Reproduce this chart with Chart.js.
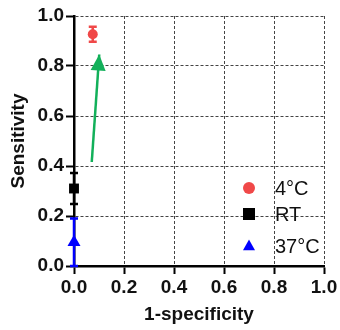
<!DOCTYPE html>
<html>
<head>
<meta charset="utf-8">
<script src="https://cdn.jsdelivr.net/npm/chart.js@4/dist/chart.umd.min.js"></script>
<style>
  html, body { margin: 0; padding: 0; background: #fff; }
  #wrap { width: 340px; height: 330px; }
</style>
</head>
<body>
<div id="wrap"><canvas id="roc" width="340" height="330"></canvas></div>
<script>
// ROC operating points by storage temperature (mean ± error)
const groups = ['4°C', 'RT', '37°C'];
const fpr = [0.075, 0, 0];            // 1-specificity
const sens = [0.927, 0.31, 0.095];     // sensitivity
const sensErr = [0.03, 0.062, 0.095];  // vertical error
const groupColors = ['#f04848', '#000000', '#0000ff'];
const groupShapes = ['circle', 'rect', 'triangle'];

// Trend arrow (start -> tip)
const arrowX = [0.071, 0.101];
const arrowY = [0.416, 0.846];

const axisTicks = [0, 0.2, 0.4, 0.6, 0.8, 1.0];

const FONT = "'Liberation Sans', Arial, sans-serif";

function drawShape(ctx, shape, x, y, r) {
  ctx.beginPath();
  if (shape === 'circle') {
    ctx.arc(x, y, r, 0, Math.PI * 2);
  } else if (shape === 'rect') {
    ctx.rect(x - r, y - r, 2 * r, 2 * r);
  } else {
    const h = r * 1.8;
    ctx.moveTo(x, y - h * 0.6);
    ctx.lineTo(x + r, y + h * 0.4);
    ctx.lineTo(x - r, y + h * 0.4);
    ctx.closePath();
  }
  ctx.fill();
}

const errorBars = {
  id: 'errorBars',
  beforeDatasetsDraw(chart) {
    const { ctx, scales } = chart;
    chart.data.datasets.forEach((ds) => {
      if (ds.errY === undefined) return;
      const p = ds.data[0];
      const x = scales.x.getPixelForValue(p.x);
      const lo = Math.max(0, p.y - ds.errY);
      const hi = p.y + ds.errY;
      const y1 = scales.y.getPixelForValue(hi);
      const y2 = scales.y.getPixelForValue(lo);
      ctx.save();
      ctx.strokeStyle = ds.backgroundColor;
      ctx.lineWidth = 2.5;
      ctx.beginPath();
      ctx.moveTo(x, y1); ctx.lineTo(x, y2);
      ctx.moveTo(x - 4, y1); ctx.lineTo(x + 4, y1);
      ctx.moveTo(x - 4, y2); ctx.lineTo(x + 4, y2);
      ctx.stroke();
      ctx.restore();
    });
  }
};

const arrowHead = {
  id: 'arrowHead',
  afterDatasetsDraw(chart) {
    const { ctx } = chart;
    chart.data.datasets.forEach((ds, i) => {
      if (!ds.isArrow) return;
      const pts = chart.getDatasetMeta(i).data;
      const a = pts[pts.length - 2], b = pts[pts.length - 1];
      const ang = Math.atan2(b.y - a.y, b.x - a.x);
      const len = 16, half = 7.5;
      const bx = b.x - len * Math.cos(ang), by = b.y - len * Math.sin(ang);
      ctx.save();
      ctx.fillStyle = ds.borderColor;
      ctx.beginPath();
      ctx.moveTo(b.x, b.y);
      ctx.lineTo(bx + half * Math.sin(ang), by - half * Math.cos(ang));
      ctx.lineTo(bx - half * Math.sin(ang), by + half * Math.cos(ang));
      ctx.closePath();
      ctx.fill();
      ctx.restore();
    });
  }
};

const keyBox = {
  id: 'keyBox',
  afterDraw(chart, args, opts) {
    const { ctx } = chart;
    ctx.save();
    ctx.font = '20px ' + FONT;
    ctx.textBaseline = 'middle';
    ctx.textAlign = 'left';
    groups.forEach((g, i) => {
      const y = opts.rows[i];
      ctx.fillStyle = groupColors[i];
      drawShape(ctx, groupShapes[i], opts.markerX, y, 6);
      ctx.fillStyle = '#111';
      ctx.fillText(g, opts.textX, y + 1);
    });
    ctx.restore();
  }
};

const pointSizes = [5, 7, 7.5];

const datasets = groups.map((g, i) => ({
  label: g,
  data: [{ x: fpr[i], y: sens[i] }],
  errY: sensErr[i],
  backgroundColor: groupColors[i],
  borderColor: groupColors[i],
  pointStyle: groupShapes[i],
  pointRadius: pointSizes[i],
  pointBorderWidth: 0,
  clip: false
}));

datasets.push({
  label: 'trend',
  type: 'line',
  isArrow: true,
  data: arrowX.map((x, i) => ({ x, y: arrowY[i] })),
  borderColor: '#12b05a',
  borderWidth: 2.5,
  pointRadius: 0,
  clip: false
});

function axis(title, fit, titlePad) {
  return {
    type: 'linear',
    min: 0,
    max: 1,
    afterBuildTicks: s => { s.ticks = axisTicks.map(v => ({ value: v })); },
    afterFit: fit,
    ticks: {
      color: '#111',
      padding: 2,
      font: { family: FONT, size: 19, weight: 'bold' },
      callback: v => Number(v).toFixed(1)
    },
    grid: {
      color: '#444',
      lineWidth: 1,
      tickColor: '#000',
      tickLength: 8,
      tickWidth: 2,
      tickBorderDash: []
    },
    border: { color: '#000', width: 2.5, dash: [3, 2] },
    title: {
      display: true,
      text: title,
      color: '#111',
      font: { family: FONT, size: 19, weight: 'bold' },
      padding: titlePad
    }
  };
}

new Chart(document.getElementById('roc'), {
  type: 'scatter',
  data: { datasets },
  options: {
    responsive: false,
    animation: false,
    layout: { padding: { top: 16, right: 16, left: 0, bottom: 0 } },
    scales: {
      x: axis('1-specificity', s => { s.height = 64; }, { top: 0, bottom: 4 }),
      y: axis('Sensitivity', s => { s.width = 74; }, { top: 7, bottom: 0 })
    },
    plugins: {
      legend: { display: false },
      tooltip: { enabled: false },
      keyBox: { markerX: 249, textX: 275, rows: [188, 214, 246] }
    }
  },
  plugins: [errorBars, arrowHead, keyBox]
});
</script>
</body>
</html>
